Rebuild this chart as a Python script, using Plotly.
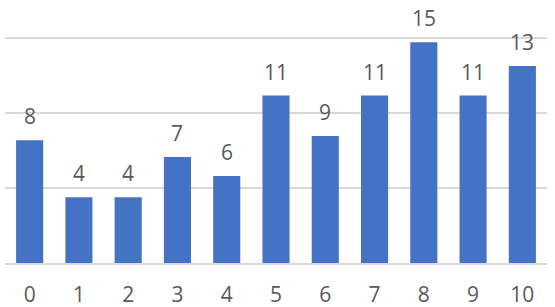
import plotly.graph_objects as go

categories = [str(i) for i in range(11)]
values = [8.18, 4.38, 4.38, 7.07, 5.8, 11.16, 8.47, 11.16, 14.71, 11.16, 13.13]
labels = ["8", "4", "4", "7", "6", "11", "9", "11", "15", "11", "13"]
y_ticks = [0, 5, 10, 15]

BAR = "#4472C4"
GRID = "#D9D9D9"
TXT = "#595959"
FONT = "Open Sans"

fig = go.Figure()
fig.add_trace(go.Bar(x=categories, y=values, marker=dict(color=BAR, line=dict(width=0)),
                     width=0.55, hoverinfo="skip"))

for c, v, t in zip(categories, values, labels):
    fig.add_annotation(x=c, y=v, text=t, showarrow=False, yanchor="middle",
                       yshift=24, font=dict(family=FONT, size=21, color=TXT))

fig.update_layout(
    width=555, height=307,
    margin=dict(l=5, r=8, t=33, b=44, pad=0, autoexpand=False),
    paper_bgcolor="white", plot_bgcolor="white",
    showlegend=False,
    bargap=0.45,
)
fig.update_xaxes(type="category", range=[-0.5, 10.5], showgrid=False,
                 showline=True, linecolor=GRID, linewidth=1.5,
                 ticks="", ticklabelstandoff=12, automargin=False,
                 tickfont=dict(family=FONT, size=21, color=TXT), zeroline=False)
fig.update_yaxes(range=[0, 230 / 15], tickvals=y_ticks, showticklabels=False,
                 automargin=False,
                 showgrid=True, gridcolor=GRID, gridwidth=1.5, zeroline=False)

fig.write_html("out.html")
